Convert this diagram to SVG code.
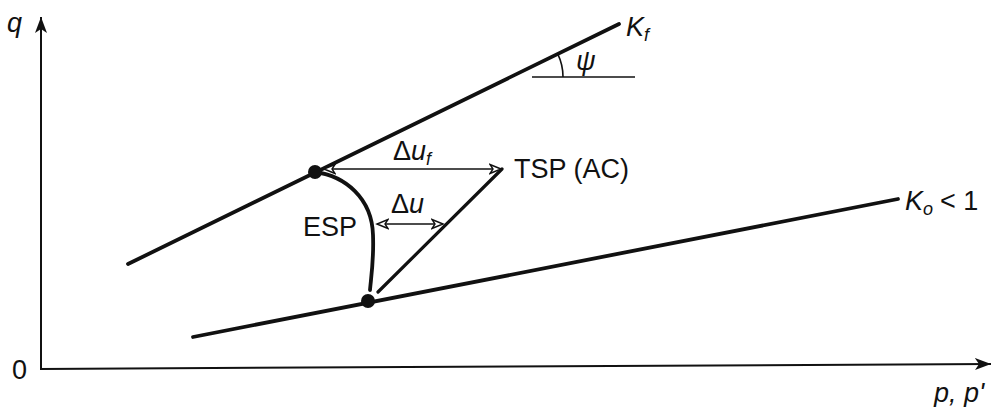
<svg xmlns="http://www.w3.org/2000/svg" width="995" height="407" viewBox="0 0 995 407">
<style>
text{font-family:"Liberation Sans",Arial,sans-serif;font-size:27px;fill:#111}
.it{font-style:italic}
.sub{font-size:18px;font-style:italic}
.thick{stroke:#111;stroke-width:3.8;fill:none;stroke-linecap:round}
.thin{stroke:#111;stroke-width:1.6;fill:none}
</style>
<defs>
<marker id="ah" viewBox="-12 -6 14 12" refX="0" refY="0" markerWidth="14" markerHeight="12" markerUnits="userSpaceOnUse" orient="auto-start-reverse">
<path d="M0,0 L-11,-4.5 L-8,0 L-11,4.5 Z" fill="#fff" stroke="#111" stroke-width="1.4" stroke-linejoin="miter"/>
</marker>
<marker id="axh" viewBox="-16 -7 17 14" refX="0" refY="0" markerWidth="17" markerHeight="14" markerUnits="userSpaceOnUse" orient="auto">
<path d="M0,0 L-16,-6 L-12,0 L-16,6 Z" fill="#111"/>
</marker>
</defs>
<rect width="995" height="407" fill="#fff"/>
<g id="axes">
<line x1="41" y1="369" x2="41" y2="17" stroke="#111" stroke-width="2" marker-end="url(#axh)"/>
<line x1="40" y1="369" x2="991" y2="364" stroke="#111" stroke-width="2" marker-end="url(#axh)"/>
<text x="7" y="32" class="it">q</text>
<text x="12" y="379">0</text>
<text x="934" y="402" class="it">p, p'</text>
</g>
<g id="Kf-line">
<line x1="128" y1="264" x2="619" y2="24" class="thick"/>
<text x="626" y="36" class="it">K<tspan class="sub" dy="5">f</tspan></text>
</g>
<g id="psi">
<line x1="532" y1="77" x2="635" y2="77" class="thin"/>
<path d="M557.6,53.7 A53,53 0 0 1 563,77" class="thin"/>
<text x="576" y="70" class="it">ψ</text>
</g>
<g id="Ko-line">
<line x1="193" y1="337" x2="898" y2="199" class="thick"/>
<text x="905" y="210" class="it">K<tspan class="sub" dy="5">o</tspan><tspan dy="-5" font-style="normal" dx="7">&lt; 1</tspan></text>
</g>
<g id="TSP">
<line x1="378" y1="292" x2="502" y2="169" stroke="#111" stroke-width="3.2" stroke-linecap="round"/>
<text x="514" y="178">TSP (AC)</text>
</g>
<g id="ESP">
<path d="M315,172 C345,176 372,198 373,235 C374,260 371,278 370,290" class="thick"/>
<text x="303" y="236">ESP</text>
</g>
<g id="points">
<circle cx="315" cy="172" r="7" fill="#111"/>
<circle cx="368" cy="301" r="7" fill="#111"/>
</g>
<g id="connectors">
<line x1="324" y1="169" x2="501" y2="169" class="thin" marker-start="url(#ah)" marker-end="url(#ah)"/>
<line x1="377" y1="224" x2="443" y2="224" class="thin" marker-start="url(#ah)" marker-end="url(#ah)"/>
</g>
<g id="labels">
<text x="393" y="160">Δ<tspan class="it">u</tspan><tspan class="sub" dy="5">f</tspan></text>
<text x="391" y="213">Δ<tspan class="it">u</tspan></text>
</g>
</svg>
